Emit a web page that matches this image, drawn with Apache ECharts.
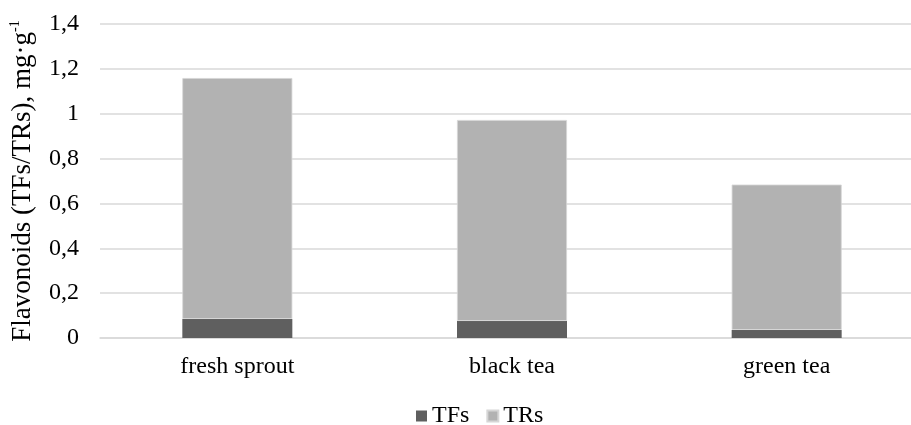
<!DOCTYPE html>
<html>
<head>
<meta charset="utf-8">
<script src="https://cdn.jsdelivr.net/npm/echarts@6/dist/echarts.min.js"></script>
<style>html,body{margin:0;padding:0;background:#fff;overflow:hidden;width:911px;height:425px}#c{width:924px;height:425px}</style>
</head>
<body>
<div id="c"></div>
<script>
const categories = ['fresh sprout', 'black tea', 'green tea'];
const tfs = [0.085, 0.076, 0.036];
const trs = [1.074, 0.896, 0.648];
const yMin = 0, yMax = 1.4, yStep = 0.2;

const FONT = '"Liberation Serif", "Times New Roman", serif';
const chart = echarts.init(document.getElementById('c'), null, {renderer: 'canvas'});
chart.setOption({
  animation: false,
  textStyle: {fontFamily: FONT},
  grid: {left: 100, top: 24, right: 0, height: 314, containLabel: false, outerBoundsMode: 'none'},
  legend: {
    top: 404, left: 416, padding: 0, itemWidth: 11, itemHeight: 11, itemGap: 17,
    icon: 'rect',
    textStyle: {fontFamily: FONT, fontSize: 24, color: '#000'},
    data: ['TFs', 'TRs']
  },
  xAxis: {
    type: 'category', data: categories,
    axisLine: {lineStyle: {color: '#d9d9d9', width: 1.5}},
    axisTick: {show: false},
    axisLabel: {fontFamily: FONT, fontSize: 24, color: '#000', margin: 17}
  },
  yAxis: {
    type: 'value', min: yMin, max: yMax, interval: yStep,
    name: '{a|Flavonoids (TFs/TRs), mg·g}{s|-1}',
    nameLocation: 'middle', nameGap: 63, nameRotate: 90,
    nameTextStyle: {
      rich: {
        a: {fontFamily: FONT, fontSize: 27, color: '#000'},
        s: {fontFamily: FONT, fontSize: 14, color: '#000', padding: [0, 0, 15, 0]}
      }
    },
    axisLine: {show: false}, axisTick: {show: false},
    splitLine: {lineStyle: {color: '#d9d9d9', width: 1.5}},
    axisLabel: {
      fontFamily: FONT, fontSize: 24, color: '#000', margin: 21,
      formatter: v => String(Math.round(v * 10) / 10).replace('.', ',')
    }
  },
  series: [
    {name: 'TFs', type: 'bar', stack: 'total', data: tfs, barWidth: 110,
     itemStyle: {color: '#5f5f5f'}},
    {name: 'TRs', type: 'bar', stack: 'total', data: trs, barWidth: 110,
     itemStyle: {color: '#b2b2b2', borderColor: '#d6d6d6', borderWidth: 0.8}}
  ]
});
</script>
</body>
</html>
